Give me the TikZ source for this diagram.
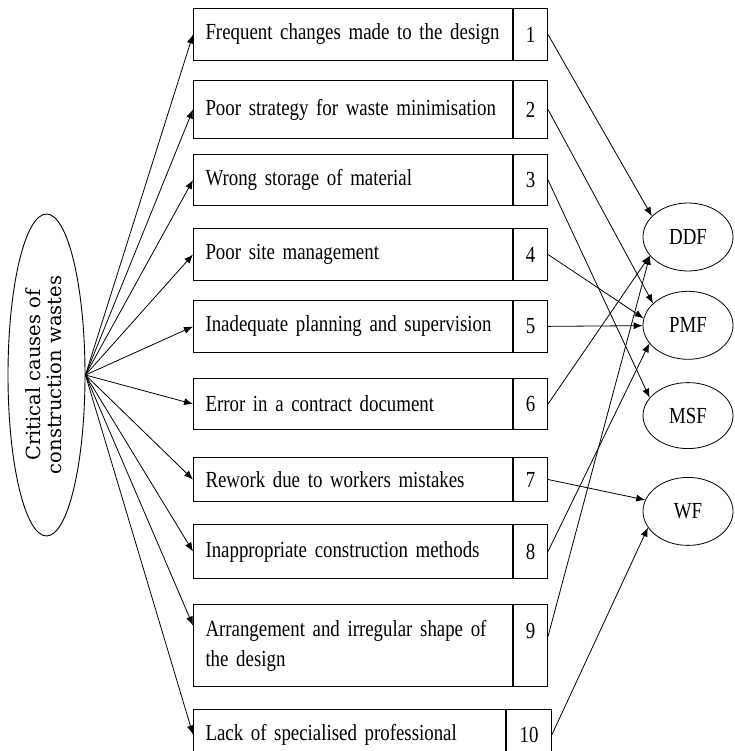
\documentclass[tikz,border=0pt]{standalone}
\usepackage{graphicx}
\usepackage{fontspec}
\setmainfont{Liberation Serif}[FakeStretch=0.82, WordSpace=0.7]
\newfontfamily\rootfont{DejaVu Serif}
\usetikzlibrary{shapes.geometric, arrows.meta, positioning}

\begin{document}
\begin{tikzpicture}[x=1pt, y=1pt,
    rootnode/.style={ellipse, draw=black, line width=0.9pt, minimum width=77pt, minimum height=322pt, inner sep=0pt, font=\rootfont\fontsize{19.5}{21}\selectfont},
    cause/.style={rectangle, draw=black, line width=1pt, text width=295pt, inner xsep=12pt, inner ysep=0pt, minimum height=52pt, align=left, font=\fontsize{23}{30}\selectfont},
    num/.style={rectangle, draw=black, line width=1pt, minimum width=34pt, minimum height=52pt, inner sep=0pt, align=center, font=\fontsize{23}{30}\selectfont},
    factor/.style={ellipse, draw=black, line width=0.8pt, minimum width=90pt, minimum height=68pt, inner sep=0pt, font=\fontsize{23}{24}\selectfont},
    arrow/.style={-{Latex[length=9pt, width=7pt]}, line width=0.8pt}
]
\useasboundingbox (0,0) rectangle (734,-751);

\node[rootnode] (root) at (46.5,-375) {\rotatebox{90}{\begin{tabular}{@{}c@{}}Critical causes of\\construction wastes\end{tabular}}};

% causes
\node[cause, anchor=north west] (c1) at (193,-8) {Frequent changes made to the design};
\node[num, right=0pt of c1] (n1) {1};
\node[cause, minimum height=58pt, below=19pt of c1] (c2) {Poor strategy for waste minimisation};
\node[num, minimum height=58pt, right=0pt of c2] (n2) {2};
\node[cause, minimum height=51pt, below=15pt of c2] (c3) {Wrong storage of material};
\node[num, minimum height=51pt, right=0pt of c3] (n3) {3};
\node[cause, below=22pt of c3] (c4) {Poor site management};
\node[num, right=0pt of c4] (n4) {4};
\node[cause, below=19pt of c4] (c5) {Inadequate planning and supervision};
\node[num, right=0pt of c5] (n5) {5};
\node[cause, minimum height=51pt, below=25pt of c5] (c6) {Error in a contract document};
\node[num, minimum height=51pt, right=0pt of c6] (n6) {6};
\node[cause, minimum height=44pt, below=27pt of c6] (c7) {Rework due to workers mistakes};
\node[num, minimum height=44pt, right=0pt of c7] (n7) {7};
\node[cause, minimum height=54pt, below=22pt of c7] (c8) {Inappropriate construction methods};
\node[num, minimum height=54pt, right=0pt of c8] (n8) {8};
\node[cause, minimum height=82pt, below=25pt of c8] (c9) {Arrangement and irregular shape of the design};
\node[num, minimum height=82pt, right=0pt of c9] (n9) {9\\ \mbox{}};
\node[cause, text width=288pt, minimum height=50pt, below=22pt of c9.south west, anchor=north west] (c10) {Lack of specialised professional};
\node[num, minimum width=45pt, minimum height=50pt, right=0pt of c10] (n10) {10};

% factors
\node[factor] (ddf) at (688,-237) {DDF};
\node[factor, below=19.5pt of ddf] (pmf) {PMF};
\node[factor, minimum height=66pt, below=22.5pt of pmf] (msf) {MSF};
\node[factor, below=28pt of msf] (wf) {WF};

% Arrows
\foreach \i in {1,...,8,10}
  \draw[arrow] (root.east) -- (c\i.west);
\draw[arrow] (root.east) -- ([yshift=20pt]c9.west);

\draw[arrow] (n1.east) -- (ddf.150);
\draw[arrow] (n2.east) -- (pmf.148);
\draw[arrow] (n3.east) -- (msf.155);
\draw[arrow] (n4.east) -- (pmf.171);
\draw[arrow] (n5) -- (pmf);
\draw[arrow] (n6.east) -- (ddf.206);
\draw[arrow] (n7.east) -- (wf.165);
\draw[arrow] (n8.east) -- (pmf.205);
\draw[arrow] ([yshift=9pt]n9.east) -- (ddf.206);
\draw[arrow] (n10.east) -- (wf.202);

\end{tikzpicture}
\end{document}
